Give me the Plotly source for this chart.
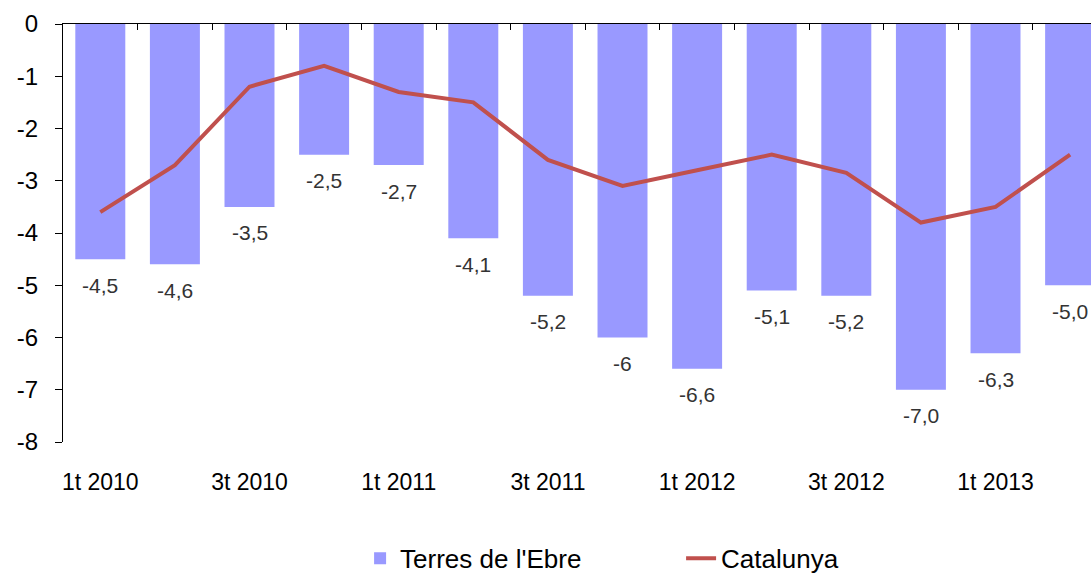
import plotly.graph_objects as go

categories = ["1t 2010", "2t 2010", "3t 2010", "4t 2010",
              "1t 2011", "2t 2011", "3t 2011", "4t 2011",
              "1t 2012", "2t 2012", "3t 2012", "4t 2012",
              "1t 2013", "2t 2013"]
terres = [-4.5, -4.6, -3.5, -2.5, -2.7, -4.1, -5.2, -6.0, -6.6, -5.1, -5.2, -7.0, -6.3, -5.0]
terres_labels = ["-4,5", "-4,6", "-3,5", "-2,5", "-2,7", "-4,1", "-5,2", "-6",
                 "-6,6", "-5,1", "-5,2", "-7,0", "-6,3", "-5,0"]
catalunya = [-3.6, -2.7, -1.2, -0.8, -1.3, -1.5, -2.6, -3.1, -2.8, -2.5, -2.85, -3.8, -3.5, -2.5]
shown_ticks = ["1t 2010", "3t 2010", "1t 2011", "3t 2011", "1t 2012", "3t 2012", "1t 2013"]
y_ticks = [0, -1, -2, -3, -4, -5, -6, -7, -8]
y_tick_labels = ["0", "-1", "-2", "-3", "-4", "-5", "-6", "-7", "-8"]

FONT = "Liberation Sans, Arial, sans-serif"
idx = list(range(len(categories)))

fig = go.Figure()
fig.add_trace(go.Bar(
    x=idx, y=terres, name="Terres de l'Ebre",
    marker=dict(color="#9999FF", line=dict(width=0)),
    hoverinfo="skip",
))
fig.add_trace(go.Scatter(
    x=idx, y=catalunya, name="Catalunya", mode="lines",
    line=dict(color="#C0504D", width=4),
    xaxis="x2", hoverinfo="skip",
))

for i, (v, t) in enumerate(zip(terres, terres_labels)):
    fig.add_annotation(x=i, y=v, text=t, showarrow=False, yshift=-26,
                       font=dict(family=FONT, size=21, color="#333333"))

tick_pos = [idx[categories.index(c)] for c in shown_ticks]
boundaries = [i + 0.5 for i in idx[:-1]]

fig.update_layout(
    width=1091, height=576,
    margin=dict(l=63, r=0, t=24, b=134, autoexpand=False),
    paper_bgcolor="white", plot_bgcolor="white",
    bargap=0.33,
    font=dict(family=FONT, color="black"),
    xaxis=dict(
        range=[-0.5, 13.28], showline=False, showgrid=False, zeroline=False,
        tickvals=tick_pos, ticktext=shown_ticks, ticks="",
        tickfont=dict(size=23, color="black"), ticklabelstandoff=24,
    ),
    xaxis2=dict(
        overlaying="x", side="top", anchor="y", matches="x",
        showline=True, linecolor="black", linewidth=1,
        showgrid=False, zeroline=False,
        tickvals=boundaries, ticks="inside", ticklen=6, tickcolor="black",
        showticklabels=False,
    ),
    yaxis=dict(
        range=[-8, 0], tickvals=y_ticks, ticktext=y_tick_labels,
        showline=True, linecolor="black",
        linewidth=1, ticks="outside", ticklen=7, tickcolor="black",
        showgrid=False, zeroline=False, ticklabelstandoff=12,
        tickfont=dict(size=24, color="black"),
    ),
    legend=dict(
        orientation="h", x=0.289, xanchor="left", y=-0.222, yanchor="top",
        font=dict(size=26, color="black"), entrywidth=276,
        bgcolor="rgba(0,0,0,0)",
    ),
)

fig.write_html("out.html", config={"displayModeBar": False},
               post_script="document.body.style.margin='0';")
